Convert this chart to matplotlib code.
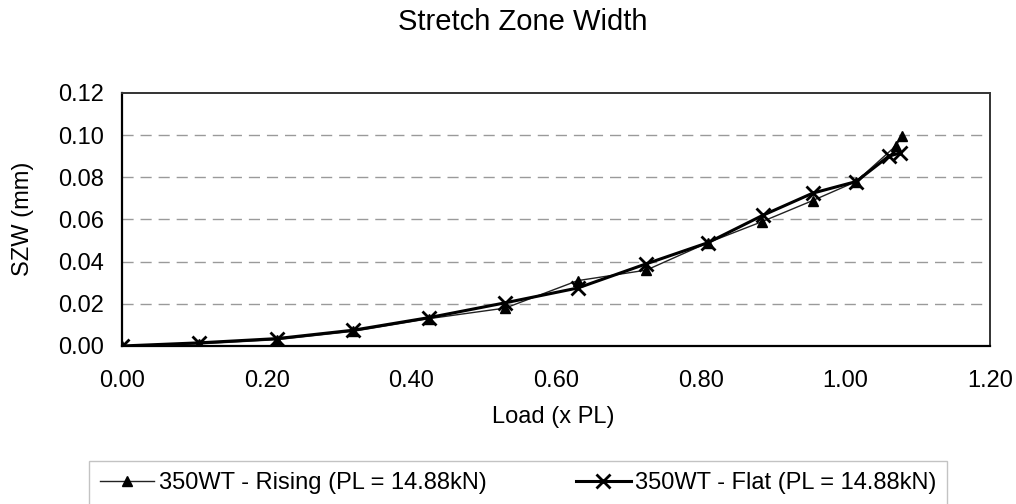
"""
Stretch Zone Width vs carico normalizzato
"""
import matplotlib
matplotlib.use("Agg")
import matplotlib.pyplot as plt


# dati
LOAD_RISING = [0.0, 0.107, 0.214, 0.32, 0.425, 0.53, 0.63, 0.725, 0.81, 0.885, 0.955, 1.015, 1.07, 1.078]
SZW_RISING = [0.0, 0.001, 0.003, 0.007, 0.013, 0.018, 0.031, 0.036, 0.049, 0.059, 0.069, 0.078, 0.095, 0.0995]

LOAD_FLAT = [0.0, 0.107, 0.214, 0.32, 0.425, 0.53, 0.63, 0.725, 0.81, 0.886, 0.955, 1.015, 1.06, 1.075]
SZW_FLAT = [0.0, 0.0015, 0.0035, 0.0075, 0.0135, 0.0205, 0.0275, 0.039, 0.049, 0.062, 0.0725, 0.078, 0.090, 0.0915]

X_TICKS = [0.0, 0.2, 0.4, 0.6, 0.8, 1.0, 1.2]
Y_TICKS = [0.0, 0.02, 0.04, 0.06, 0.08, 0.10, 0.12]

LABEL_RISING = "350WT - Rising (PL = 14.88kN)"
LABEL_FLAT = "350WT - Flat (PL = 14.88kN)"

plt.rcParams["font.family"] = ["Liberation Sans", "DejaVu Sans"]
FS = 17

fig = plt.figure(figsize=(10.16, 5.04), dpi=100)
ax = fig.add_axes([0.1201, 0.3135, 0.8543, 0.502])

# griglia orizzontale
for y in Y_TICKS[1:-1]:
    ax.axhline(y, color="#9a9a9a", lw=1.0, ls=(0, (8, 5)), zorder=0)

ax.plot(LOAD_RISING, SZW_RISING, color="#222222", lw=1.0, ls="-",
        marker="^", ms=7.5, mfc="black", mec="black", label=LABEL_RISING, zorder=3)
ax.plot(LOAD_FLAT, SZW_FLAT, color="black", lw=2.2,
        marker="x", ms=10, mew=2.0, label=LABEL_FLAT, zorder=4)

ax.set_xlim(0, 1.2)
ax.set_ylim(0, 0.12)
ax.set_xticks(X_TICKS)
ax.set_yticks(Y_TICKS)
ax.set_xticklabels([f"{v:.2f}" for v in X_TICKS])
ax.set_yticklabels([f"{v:.2f}" for v in Y_TICKS])
ax.tick_params(axis="both", length=0, labelsize=FS)
ax.tick_params(axis="x", pad=17)
ax.tick_params(axis="y", pad=13)

for side in ("left", "bottom"):
    ax.spines[side].set_linewidth(1.6)
    ax.spines[side].set_color("black")
for side in ("top", "right"):
    ax.spines[side].set_linewidth(1.4)
    ax.spines[side].set_color("#333333")
    ax.spines[side].set_linestyle((0, (2, 1)))

fig.text(0.515, 1 - 22 / 504, "Stretch Zone Width", ha="center", va="center", fontsize=21)
fig.text(0.545, 1 - 417 / 504, "Load (x PL)", ha="center", va="center", fontsize=FS)
fig.text(23 / 1016, 1 - 219 / 504, "SZW (mm)", ha="center", va="center",
         rotation=90, fontsize=FS)

fig.legend(loc="center", bbox_to_anchor=(0.51, 1 - 483 / 504), ncol=2,
           fontsize=FS, frameon=True, edgecolor="#b5b5b5", fancybox=False,
           handlelength=2.3, handletextpad=0.2, columnspacing=3.8,
           borderpad=0.45)

fig.savefig("out.png", dpi=100)
